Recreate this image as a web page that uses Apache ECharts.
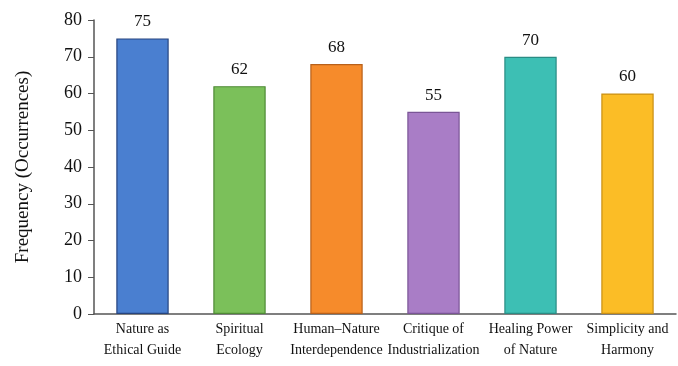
<!DOCTYPE html>
<html>
<head>
<meta charset="utf-8">
<script src="https://cdn.jsdelivr.net/npm/echarts@6/dist/echarts.min.js"></script>
<style>
  html, body { margin: 0; padding: 0; background: #fff; }
  #chart { width: 678px; height: 366px; }
</style>
</head>
<body>
<div id="chart"></div>
<script>
// themes and how often they show up
const categories = ['Nature as\nEthical Guide', 'Spiritual\nEcology', 'Human\u2013Nature\nInterdependence',
  'Critique of\nIndustrialization', 'Healing Power\nof Nature', 'Simplicity and\nHarmony'];
const counts = [75, 62, 68, 55, 70, 60];
const fills = ['#4a7fd0', '#7bc05a', '#f68b2b', '#a97dc6', '#3dbfb4', '#fbbd26'];
const borders = ['#26447f', '#4f8a36', '#b8601a', '#7a5596', '#2a8c84', '#c98f14'];
const yTicks = [0, 10, 20, 30, 40, 50, 60, 70, 80];

const font = 'Liberation Serif';
let chart = echarts.init(document.getElementById('chart'));

let option = {
    backgroundColor: '#fff',
    textStyle: { fontFamily: font },
    grid: { left: 94, right: 2, top: 20, bottom: 52 },
    xAxis: {
        type: 'category',
        data: categories,
        axisLine: { lineStyle: { color: '#555', width: 1.5 } },
        axisTick: { show: false },
        axisLabel: { color: '#111', fontSize: 14, fontFamily: font, lineHeight: 21, margin: 5, interval: 0 }
    },
    yAxis: {
        type: 'value',
        min: yTicks[0],
        max: yTicks[yTicks.length - 1],
        interval: 10,
        name: 'Frequency (Occurrences)',
        nameLocation: 'middle',
        nameGap: 61,
        nameTextStyle: { color: '#111', fontSize: 19, fontFamily: font },
        axisLine: { show: true, lineStyle: { color: '#555', width: 1.5 } },
        axisTick: { show: true, length: 6, lineStyle: { color: '#555' } },
        axisLabel: { color: '#111', fontSize: 18, fontFamily: font, margin: 12 },
        splitLine: { show: false }
    },
    series: [{
        type: 'bar',
        barWidth: '54%',
        data: counts.map((v, i) => ({
            value: v,
            itemStyle: { color: fills[i], borderColor: borders[i], borderWidth: 1.2 }
        })),
        label: {
            show: true,
            position: 'top',
            distance: 8,
            color: '#111',
            fontSize: 17,
            fontFamily: font
        }
    }]
};
chart.setOption(option);
</script>
</body>
</html>
